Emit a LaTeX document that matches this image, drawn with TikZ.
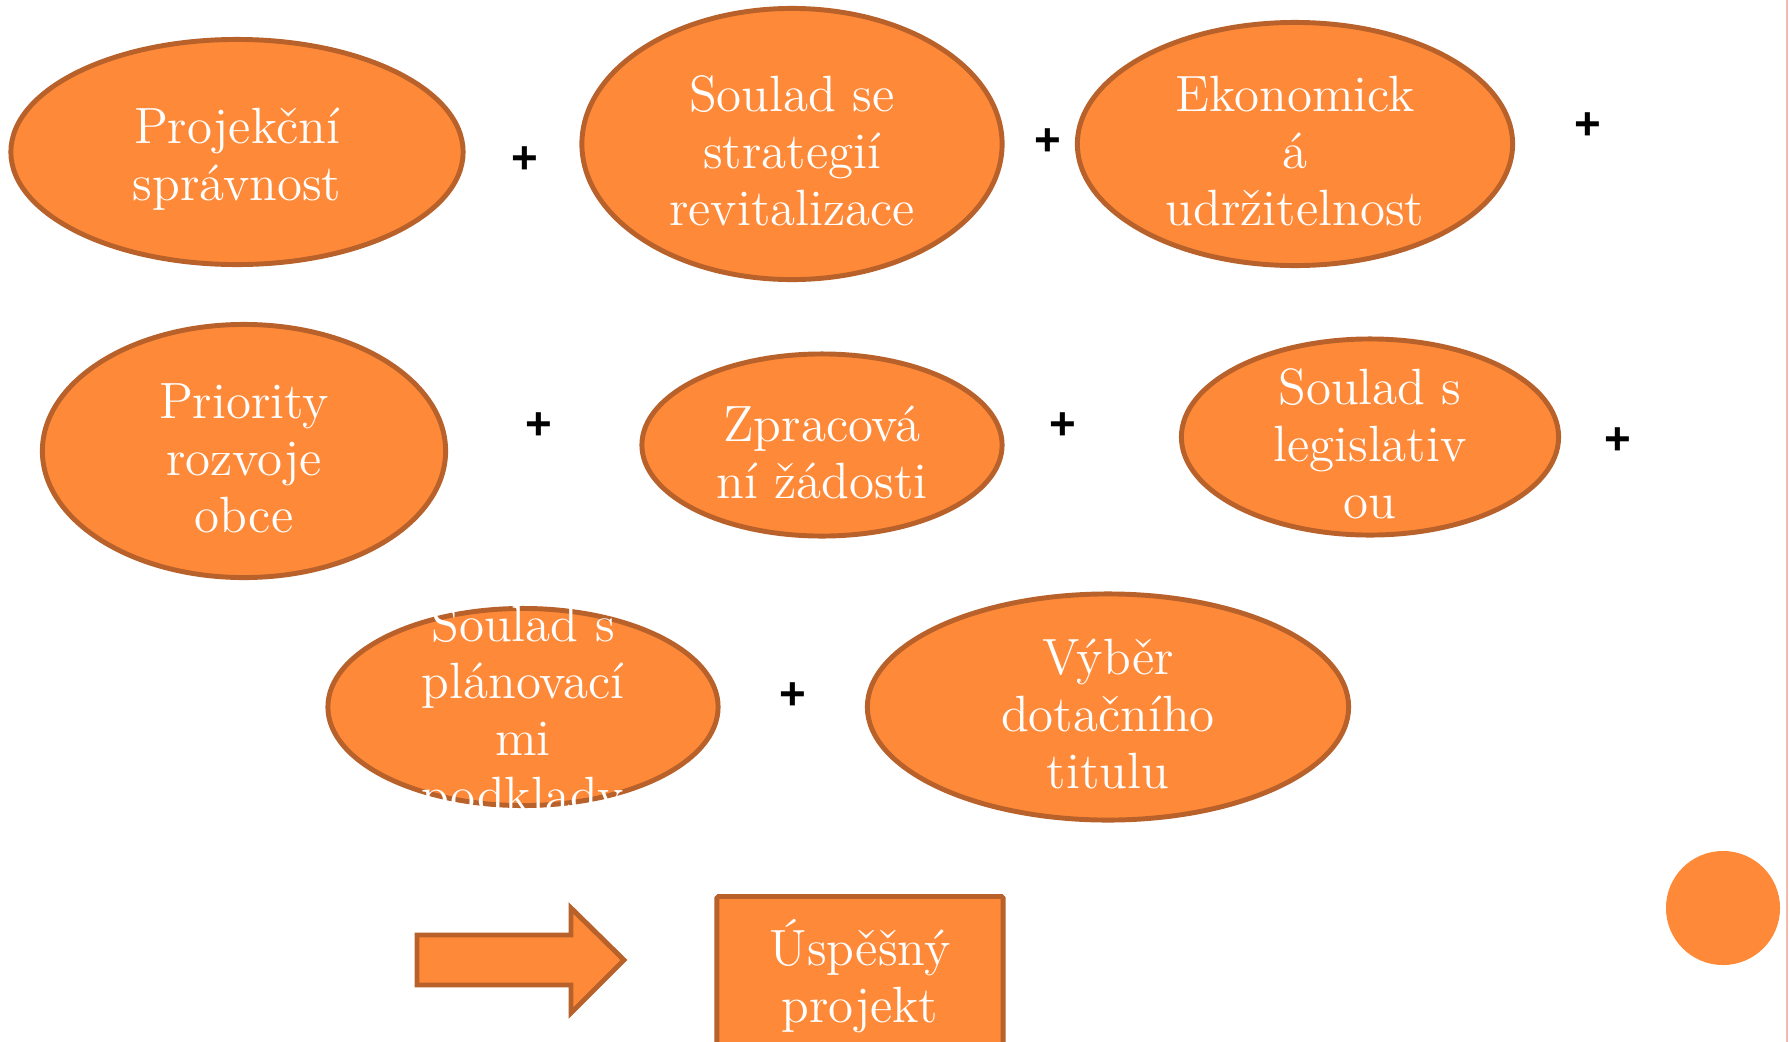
\documentclass[tikz,border=0pt]{standalone}
\usepackage{fontspec}
\usepackage{tikz}
\usetikzlibrary{shapes.geometric}
\newfontfamily\plusfont{Liberation Sans}
\definecolor{orange}{HTML}{FE8A39}
\definecolor{darkorange}{HTML}{B8612A}
\definecolor{salmon}{HTML}{F5B9AB}

\tikzset{
  blob/.style={ellipse, draw=darkorange, fill=orange, line width=1.4pt, inner sep=0pt},
  words/.style={text=white, align=center, inner sep=0pt, yshift=-2pt, font=\fontsize{14.5}{16.2}\selectfont},
  plus/.style={font=\plusfont\bfseries\fontsize{13}{13}\selectfont}
}

\begin{document}
\begin{tikzpicture}[x=0.01cm, y=-0.01cm]
    \useasboundingbox (0,0) rectangle (1790,1042);
    % Frame line on the right
    \draw[salmon, line width=0.6pt] (1787,0) -- (1787,1042);

    % First row
    \node[blob, minimum width=4.52cm, minimum height=2.25cm] (proj) at (237,152) {};
    \node[words] at (proj) {Projekční\\správnost};
    \node[blob, minimum width=4.20cm, minimum height=2.71cm] (strat) at (792,144) {};
    \node[words] at (strat) {Soulad se\\strategií\\revitalizace};
    \node[blob, minimum width=4.35cm, minimum height=2.43cm] (ekon) at (1295,144) {};
    \node[words] at (ekon) {Ekonomick\\á\\udržitelnost};

    % Second row
    \node[blob, minimum width=4.03cm, minimum height=2.53cm] (prio) at (244,451) {};
    \node[words] at (prio) {Priority\\rozvoje\\obce};
    \node[blob, minimum width=3.60cm, minimum height=1.82cm] (zprac) at (822,445) {};
    \node[words] at (zprac) {Zpracová\\ní žádosti};
    \node[blob, minimum width=3.77cm, minimum height=1.96cm] (legis) at (1370,437) {};
    \node[words] at (legis) {Soulad s\\legislativ\\ou};

    % Third row
    \node[blob, minimum width=3.90cm, minimum height=1.97cm] (plan) at (523,707) {};
    \begin{scope}
      \clip (plan.west |- plan.north) rectangle (plan.east |- plan.south);
      \node[words] at (plan) {Soulad s\\plánovací\\mi\\podklady};
    \end{scope}
    \node[blob, minimum width=4.81cm, minimum height=2.26cm] (titul) at (1108,707) {};
    \node[words] at (titul) {Výběr\\dotačního\\titulu};

    % Plus signs
    \node[plus] (p1) at (525,160) {+};
    \node[plus] (p2) at (1048,142) {+};
    \node[plus] (p3) at (1588,126) {+};
    \node[plus] (p4) at (539,426) {+};
    \node[plus] (p5) at (1063,426) {+};
    \node[plus] (p6) at (1618,441) {+};
    \node[plus] (p7) at (793,696) {+};

    % Result
    \draw[draw=darkorange, fill=orange, line width=1.4pt]
      (417,935) -- (571,935) -- (571,908) -- (624,960) -- (571,1013) -- (571,985) -- (417,985) -- cycle;
    \node[draw=darkorange, fill=orange, line width=1.4pt, rounded corners=0.5pt,
          minimum width=2.86cm, minimum height=1.6cm, anchor=north,
          text=white, align=center, font=\fontsize{14.5}{16.2}\selectfont] (ok) at (860,894) {Úspěšný\\projekt};
    \node[circle, fill=orange, minimum size=1.14cm, inner sep=0pt] (dot) at (1723,908) {};
\end{tikzpicture}
\end{document}
